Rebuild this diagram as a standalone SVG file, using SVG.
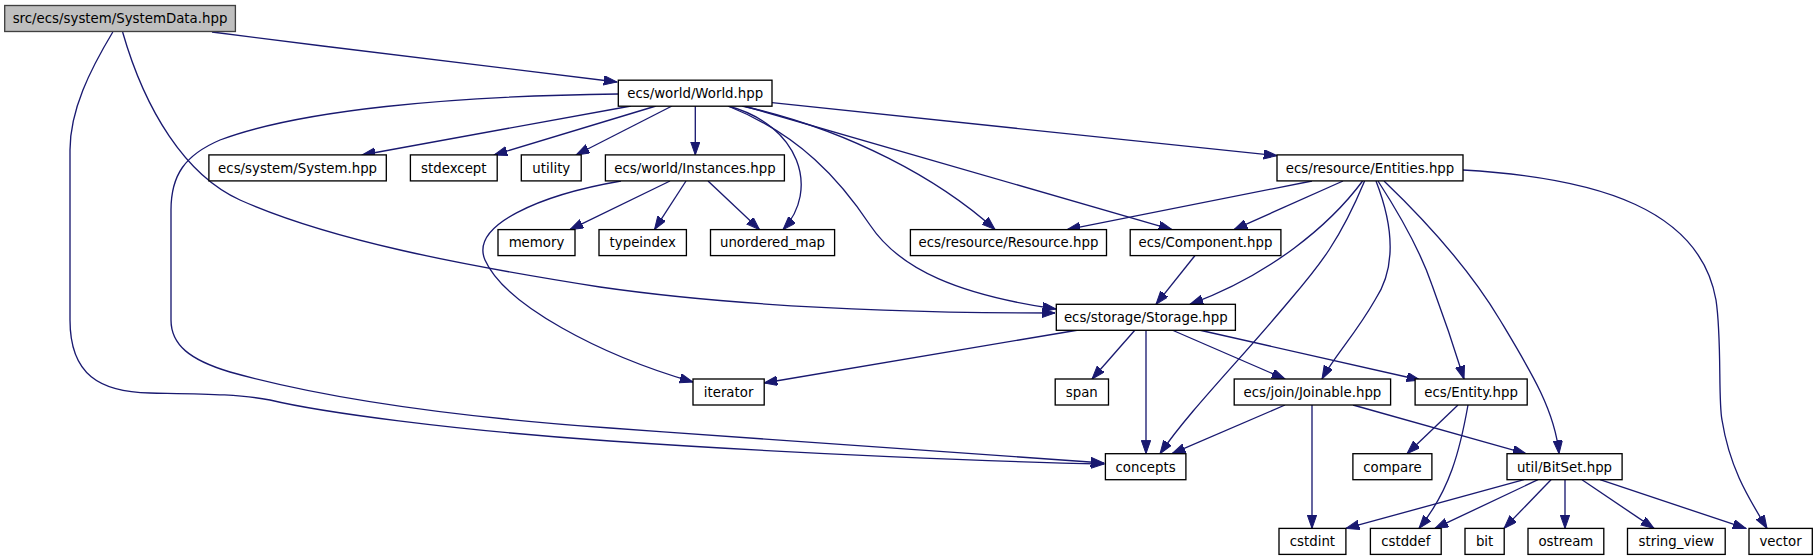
<svg xmlns="http://www.w3.org/2000/svg" width="1817" height="560" viewBox="0 0 1817 560">
<style>
.n rect{fill:#fff;stroke:#000;stroke-width:1.33}
.n.root rect{fill:#bfbfbf;stroke:#404040}
.n text{font-family:"DejaVu Sans","Liberation Sans",sans-serif;font-size:13.33px;fill:#000;text-anchor:middle}
#edges path{fill:none;stroke:#191970;stroke-width:1.33;marker-end:url(#a)}
</style>
<defs>
<marker id="a" markerWidth="14" markerHeight="10" refX="13.3" refY="4.67" orient="auto" markerUnits="userSpaceOnUse">
<path d="M0,0 L13.3,4.67 L0,9.33 z" fill="#191970" stroke="#191970" stroke-width="1"/>
</marker>
</defs>
<rect width="1817" height="560" fill="#fff"/>
<g id="edges">
<path d="M212,32 C350,50 500,67 617,82"/>
<path d="M122.6,32 C145,110 185,175 240,200 C330,240 460,265 600,287 C760,310 950,313 1055,313"/>
<path d="M112.8,32 C90,70 70,110 70,150 L70,320 C70,375 100,392 150,393 C200,394 240,394 270,400 C320,412 450,430 610,441 C800,454 1000,462 1104,464"/>
<path d="M618,94 C450,96 300,110 220,140 C185,155 171,175 171,210 L171,320 C171,345 190,360 230,372 C330,400 470,418 610,428 C800,442 1000,455 1104,463"/>
<path d="M631,106 L362,155"/>
<path d="M656,106 L494,155"/>
<path d="M672,106 L576,155"/>
<path d="M695.3,106 L695.3,155"/>
<path d="M728,106 C800,125 820,190 783,229.6"/>
<path d="M728,106 C800,135 840,180 870,225 C900,270 960,295 1056,309"/>
<path d="M742,106 C850,130 940,180 995,229.6"/>
<path d="M744,106 L1172,229.6"/>
<path d="M772,102.7 L1277,155.7"/>
<path d="M621,181 C540,195 470,225 485,260 C505,305 600,355 693,382"/>
<path d="M670,181 L570,229.6"/>
<path d="M686,181 L654.5,229.6"/>
<path d="M708,181 L759.5,229.6"/>
<path d="M1312,181 L1067,229.6"/>
<path d="M1343,181 L1234,229.6"/>
<path d="M1362.6,181 C1330,225 1270,275 1190,304.3"/>
<path d="M1364.6,181 C1340,240 1320,265 1290,300 C1240,360 1190,410 1160,453.7"/>
<path d="M1376,181 C1395,230 1395,270 1375,300 C1355,335 1335,355 1322,379"/>
<path d="M1378,181 C1400,215 1420,250 1432,285 C1445,320 1455,350 1464,379"/>
<path d="M1384,181 C1430,225 1470,270 1500,320 C1530,370 1555,410 1559,453.7"/>
<path d="M1463,170 C1600,178 1700,210 1716,300 C1722,340 1718,400 1722,420 C1730,470 1750,500 1767,528.4"/>
<path d="M1195,255.5 L1156,304.3"/>
<path d="M1078.5,330 L764,383"/>
<path d="M1135,330 L1092,379"/>
<path d="M1146,330 L1146,453.7"/>
<path d="M1172,330 L1285,379"/>
<path d="M1199,330 L1420,380"/>
<path d="M1285,405 L1172,453.7"/>
<path d="M1312,405 L1312,528.4"/>
<path d="M1353,405 L1526,453.7"/>
<path d="M1458,405 L1407,453.7"/>
<path d="M1468,405 C1460,450 1450,490 1419,528.4"/>
<path d="M1524,479.7 L1346,528.4"/>
<path d="M1538,479.7 L1435,528.4"/>
<path d="M1551,479.7 L1504,528.4"/>
<path d="M1565,479.7 L1565,528.4"/>
<path d="M1582,479.7 L1654,528.4"/>
<path d="M1600,479.7 L1746,528.4"/>
</g>
<g id="SystemData" class="n root"><rect x="4.7" y="5.5" width="230.7" height="26"/><text x="120" y="23.3">src/ecs/system/SystemData.hpp</text></g>
<g id="World" class="n"><rect x="618.3" y="80.2" width="153.7" height="26"/><text x="695.2" y="98">ecs/world/World.hpp</text></g>
<g id="System" class="n"><rect x="208.9" y="154.9" width="177.4" height="26"/><text x="297.6" y="172.7">ecs/system/System.hpp</text></g>
<g id="stdexcept" class="n"><rect x="410.4" y="154.9" width="86.8" height="26"/><text x="453.8" y="172.7">stdexcept</text></g>
<g id="utility" class="n"><rect x="521.3" y="154.9" width="59.9" height="26"/><text x="551.3" y="172.7">utility</text></g>
<g id="Instances" class="n"><rect x="605.4" y="154.9" width="179" height="26"/><text x="694.9" y="172.7">ecs/world/Instances.hpp</text></g>
<g id="Entities" class="n"><rect x="1277" y="154.9" width="186" height="26"/><text x="1370" y="172.7">ecs/resource/Entities.hpp</text></g>
<g id="memory" class="n"><rect x="498" y="229.6" width="77" height="26"/><text x="536.5" y="247.4">memory</text></g>
<g id="typeindex" class="n"><rect x="599" y="229.6" width="87.4" height="26"/><text x="642.7" y="247.4">typeindex</text></g>
<g id="unordered_map" class="n"><rect x="710.5" y="229.6" width="124.1" height="26"/><text x="772.5" y="247.4">unordered_map</text></g>
<g id="Resource" class="n"><rect x="910.4" y="229.6" width="196.1" height="26"/><text x="1008.5" y="247.4">ecs/resource/Resource.hpp</text></g>
<g id="Component" class="n"><rect x="1130.2" y="229.6" width="150.7" height="26"/><text x="1205.5" y="247.4">ecs/Component.hpp</text></g>
<g id="Storage" class="n"><rect x="1056.3" y="304.3" width="179.1" height="26"/><text x="1145.8" y="322.1">ecs/storage/Storage.hpp</text></g>
<g id="iterator" class="n"><rect x="693" y="379" width="71.2" height="26"/><text x="728.6" y="396.8">iterator</text></g>
<g id="span" class="n"><rect x="1055.2" y="379" width="53.3" height="26"/><text x="1081.8" y="396.8">span</text></g>
<g id="Joinable" class="n"><rect x="1234.2" y="379" width="156.4" height="26"/><text x="1312.4" y="396.8">ecs/join/Joinable.hpp</text></g>
<g id="Entity" class="n"><rect x="1415.1" y="379" width="112.1" height="26"/><text x="1471.1" y="396.8">ecs/Entity.hpp</text></g>
<g id="concepts" class="n"><rect x="1105.4" y="453.7" width="80.5" height="26"/><text x="1145.6" y="471.5">concepts</text></g>
<g id="compare" class="n"><rect x="1352.9" y="453.7" width="79" height="26"/><text x="1392.4" y="471.5">compare</text></g>
<g id="BitSet" class="n"><rect x="1507" y="453.7" width="115.1" height="26"/><text x="1564.5" y="471.5">util/BitSet.hpp</text></g>
<g id="cstdint" class="n"><rect x="1279" y="528.4" width="66.9" height="26"/><text x="1312.4" y="546.2">cstdint</text></g>
<g id="cstddef" class="n"><rect x="1370.4" y="528.4" width="70.8" height="26"/><text x="1405.8" y="546.2">cstddef</text></g>
<g id="bit" class="n"><rect x="1465" y="528.4" width="39.2" height="26"/><text x="1484.6" y="546.2">bit</text></g>
<g id="ostream" class="n"><rect x="1528" y="528.4" width="75.8" height="26"/><text x="1565.9" y="546.2">ostream</text></g>
<g id="string_view" class="n"><rect x="1627.5" y="528.4" width="97.7" height="26"/><text x="1676.3" y="546.2">string_view</text></g>
<g id="vector" class="n"><rect x="1749" y="528.4" width="63.3" height="26"/><text x="1780.6" y="546.2">vector</text></g>
</svg>
